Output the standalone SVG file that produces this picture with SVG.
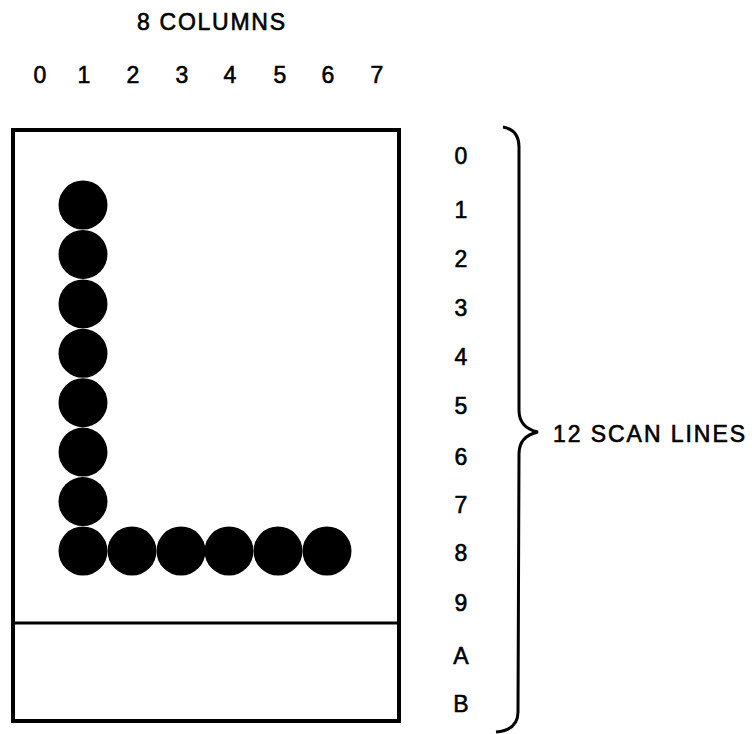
<svg xmlns="http://www.w3.org/2000/svg" width="752" height="734" viewBox="0 0 752 734">
<style>
text{font-family:"Liberation Sans",Arial,sans-serif;fill:#000;stroke:#000;stroke-width:0.6;font-size:23px}
.c{text-anchor:middle}
.dot{fill:#000}
.ln{fill:none;stroke:#000}
</style>
<rect width="752" height="734" fill="#fff"/>
<g id="title"><text x="211" y="30" class="c" textLength="148" lengthAdjust="spacing">8 COLUMNS</text></g>
<g id="col-labels">
<text x="40" y="83" class="c">0</text>
<text x="84" y="83" class="c">1</text>
<text x="133" y="83" class="c">2</text>
<text x="182" y="83" class="c">3</text>
<text x="230" y="83" class="c">4</text>
<text x="280" y="83" class="c">5</text>
<text x="328" y="83" class="c">6</text>
<text x="377" y="83" class="c">7</text>
</g>
<g id="grid">
<rect x="13" y="130" width="386" height="591" class="ln" stroke-width="4"/>
<line x1="13" y1="623" x2="399" y2="623" class="ln" stroke-width="3"/>
</g>
<g id="char-L">
<circle cx="83" cy="205" r="24.5" class="dot"/>
<circle cx="83" cy="254.4" r="24.5" class="dot"/>
<circle cx="83" cy="303.9" r="24.5" class="dot"/>
<circle cx="83" cy="353.3" r="24.5" class="dot"/>
<circle cx="83" cy="402.7" r="24.5" class="dot"/>
<circle cx="83" cy="452.1" r="24.5" class="dot"/>
<circle cx="83" cy="501.6" r="24.5" class="dot"/>
<circle cx="83" cy="551" r="24.5" class="dot"/>
<circle cx="132" cy="551" r="24.5" class="dot"/>
<circle cx="181" cy="551" r="24.5" class="dot"/>
<circle cx="229" cy="551" r="24.5" class="dot"/>
<circle cx="278" cy="551" r="24.5" class="dot"/>
<circle cx="327" cy="551" r="24.5" class="dot"/>
</g>
<g id="row-labels">
<text x="461" y="164" class="c">0</text>
<text x="461" y="218" class="c">1</text>
<text x="461" y="267" class="c">2</text>
<text x="461" y="316" class="c">3</text>
<text x="461" y="365" class="c">4</text>
<text x="461" y="414" class="c">5</text>
<text x="461" y="465" class="c">6</text>
<text x="461" y="513" class="c">7</text>
<text x="461" y="561" class="c">8</text>
<text x="461" y="611" class="c">9</text>
<text x="461" y="664" class="c">A</text>
<text x="461" y="712" class="c">B</text>
</g>
<g id="connectors">
<path class="ln" stroke-width="3" d="M503,127 Q519,130 519,147 L519,410 Q519,428 538,432 Q519,436 519,454 L518,712 Q518,730 496,732"/>
</g>
<g id="scan-label"><text x="553" y="442" textLength="192" lengthAdjust="spacing">12 SCAN LINES</text></g>
</svg>
